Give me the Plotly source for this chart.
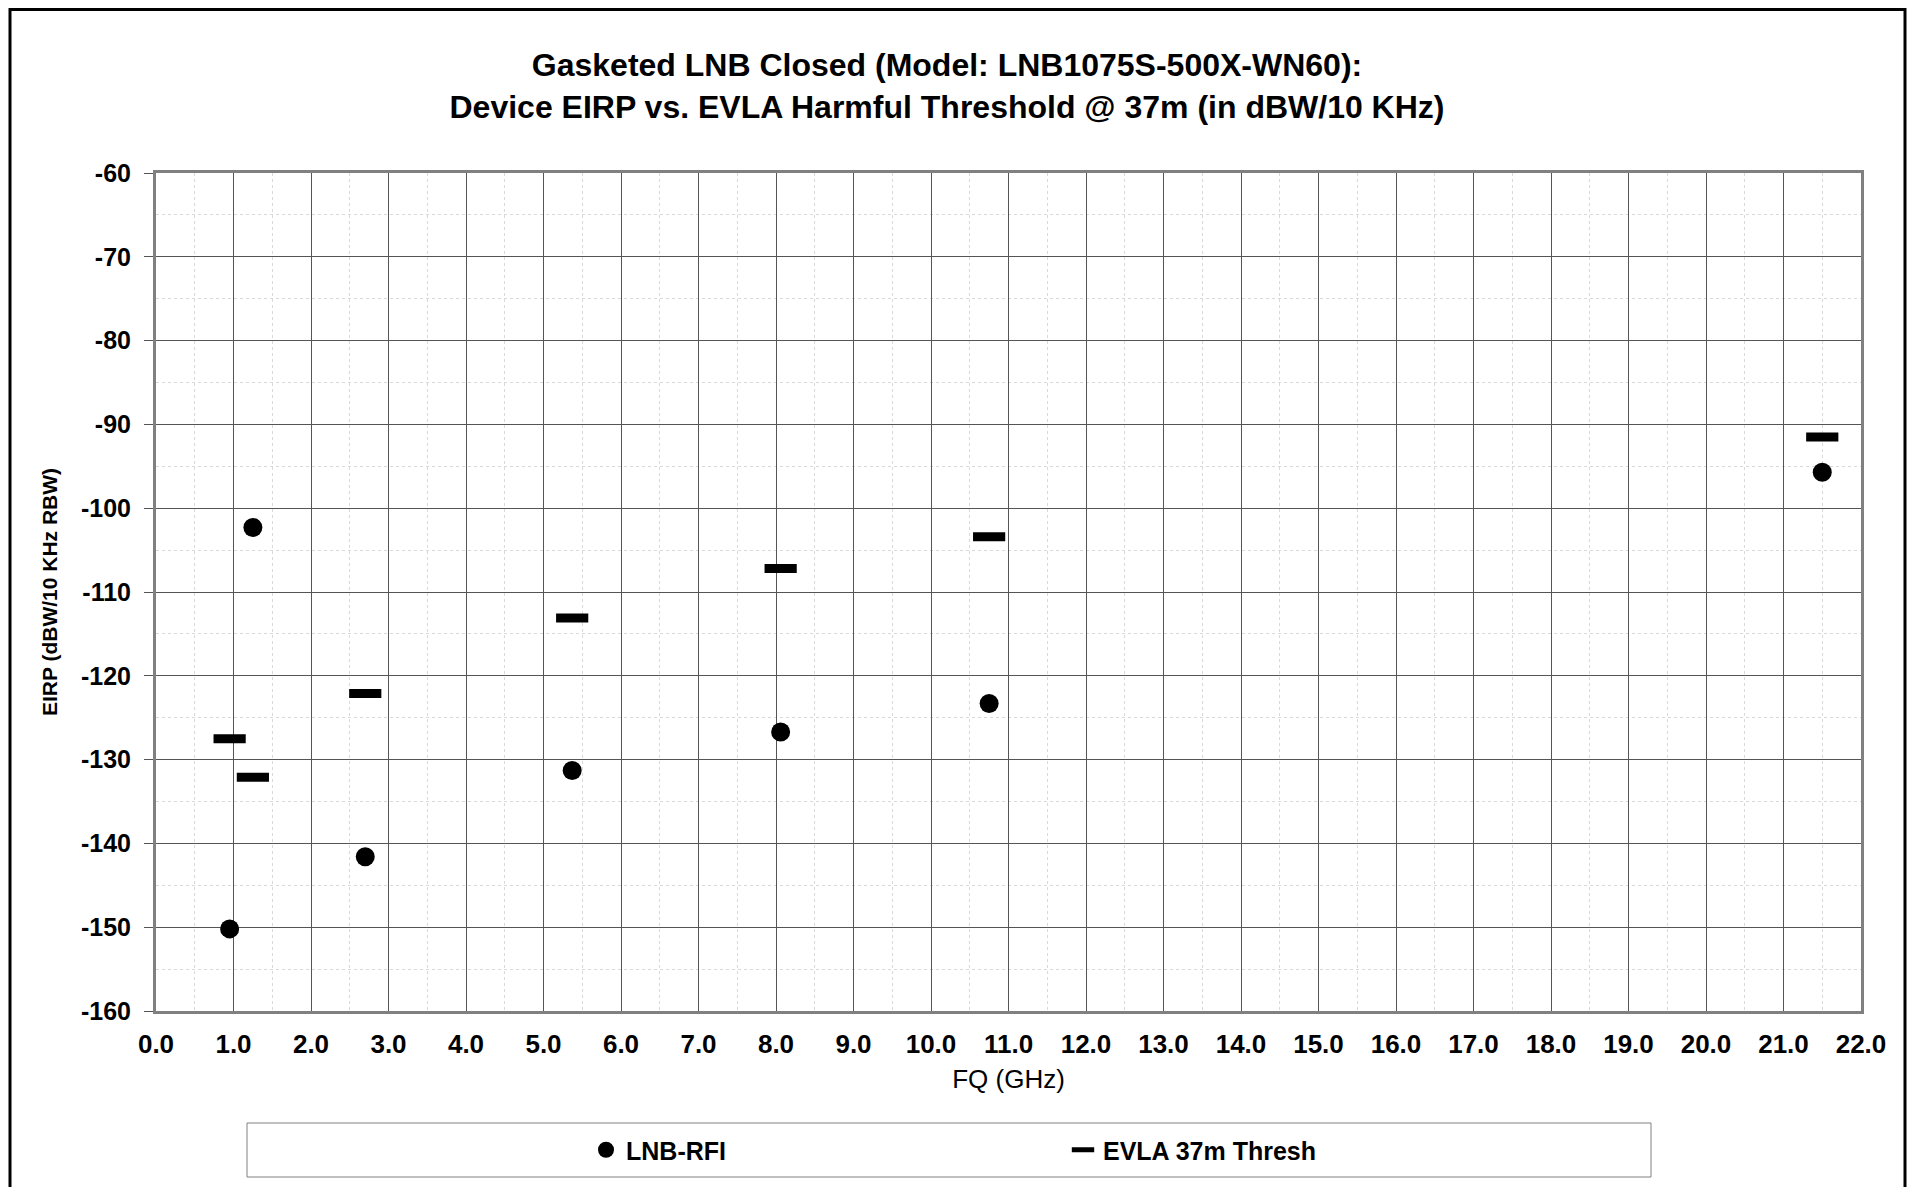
import plotly.graph_objects as go

# ---- data ----
rfi_freq = [0.95, 1.25, 2.70, 5.37, 8.06, 10.75, 21.50]
rfi_eirp = [-150.2, -102.3, -141.6, -131.3, -126.7, -123.3, -95.7]

thr_freq = [0.95, 1.25, 2.70, 5.37, 8.06, 10.75, 21.50]
thr_eirp = [-127.5, -132.1, -122.1, -113.1, -107.2, -103.4, -91.5]

x_ticks = [float(v) for v in range(0, 23)]
y_ticks = list(range(-160, -50, 10))
y_tick_labels = [str(v) for v in y_ticks]

FONT = "Liberation Sans, Arial, sans-serif"
W, H = 1918, 1187
OFF = 8  # default page margin of the html body
ML, MT = 148, 165
PW, PH = 1705, 838
MR, MB = W - ML - PW, H - MT - PH


def px_x(p):
    return (p - OFF - ML) / PW


def px_y(p):
    return (H - MB - (p - OFF)) / PH


fig = go.Figure()
fig.add_trace(go.Scatter(
    x=rfi_freq, y=rfi_eirp, mode="markers", name="LNB-RFI",
    marker=dict(symbol="circle", size=19, color="black"),
    legend="legend",
))
fig.add_trace(go.Scatter(
    x=thr_freq, y=thr_eirp, mode="markers", name="EVLA 37m Thresh",
    marker=dict(symbol="line-ew", size=23, color="black",
                line=dict(width=9, color="black")),
    legend="legend2",
))

legend_common = dict(
    orientation="h", yanchor="middle", xanchor="left",
    bgcolor="rgba(0,0,0,0)", borderwidth=0,
    font=dict(family=FONT, size=25, color="black", weight="bold"),
    itemwidth=30,
)

fig.update_layout(
    width=W, height=H,
    margin=dict(l=ML, r=MR, t=MT, b=MB),
    paper_bgcolor="white", plot_bgcolor="white",
    font=dict(family=FONT, color="black"),
    title=dict(
        text="Gasketed LNB Closed (Model: LNB1075S-500X-WN60):<br>"
             "Device EIRP vs. EVLA Harmful Threshold @ 37m (in dBW/10 KHz)",
        x=939 / W, xanchor="center", xref="container",
        y=1 - 68 / H, yanchor="middle", yref="container",
        font=dict(family=FONT, size=32, color="black", weight="bold"),
    ),
    xaxis=dict(
        range=[0, 22], tickvals=x_ticks, tickformat=".1f",
        ticks="", ticklabelstandoff=8,
        tickfont=dict(family=FONT, size=26, color="black", weight="bold"),
        showgrid=True, gridcolor="#555555", gridwidth=1,
        minor=dict(dtick=0.5, showgrid=True, gridcolor="#d9d9d9",
                   griddash="dot", gridwidth=1, ticks=""),
        showline=True, linecolor="#808080", linewidth=3, mirror=True,
        zeroline=False,
        title=dict(text="FQ (GHz)", standoff=12,
                   font=dict(family=FONT, size=26, color="black")),
    ),
    yaxis=dict(
        range=[-160, -60], tickvals=y_ticks, ticktext=y_tick_labels,
        ticks="outside", ticklen=9, tickcolor="#555555", tickwidth=1,
        ticklabelstandoff=8,
        tickfont=dict(family=FONT, size=25, color="black", weight="bold"),
        showgrid=True, gridcolor="#555555", gridwidth=1,
        minor=dict(dtick=5, showgrid=True, gridcolor="#d9d9d9",
                   griddash="dot", gridwidth=1, ticks=""),
        showline=True, linecolor="#808080", linewidth=3, mirror=True,
        zeroline=False,
        title=dict(text="EIRP (dBW/10 KHz RBW)", standoff=18,
                   font=dict(family=FONT, size=21, color="black", weight="bold")),
    ),
    legend=dict(x=px_x(586), y=px_y(1150), **legend_common),
    legend2=dict(x=px_x(1063), y=px_y(1150), **legend_common),
    shapes=[
        # legend box
        dict(type="rect", xref="paper", yref="paper",
             x0=px_x(247), x1=px_x(1651), y0=px_y(1177), y1=px_y(1123),
             line=dict(color="#808080", width=1), fillcolor="rgba(0,0,0,0)",
             layer="below"),
        # outer chart frame
        dict(type="rect", xref="paper", yref="paper",
             x0=px_x(10), x1=px_x(1905), y0=px_y(1205), y1=px_y(OFF + 1.5),
             line=dict(color="black", width=3), fillcolor="rgba(0,0,0,0)",
             layer="below"),
    ],
    showlegend=True,
)

fig.write_html("out.html")
